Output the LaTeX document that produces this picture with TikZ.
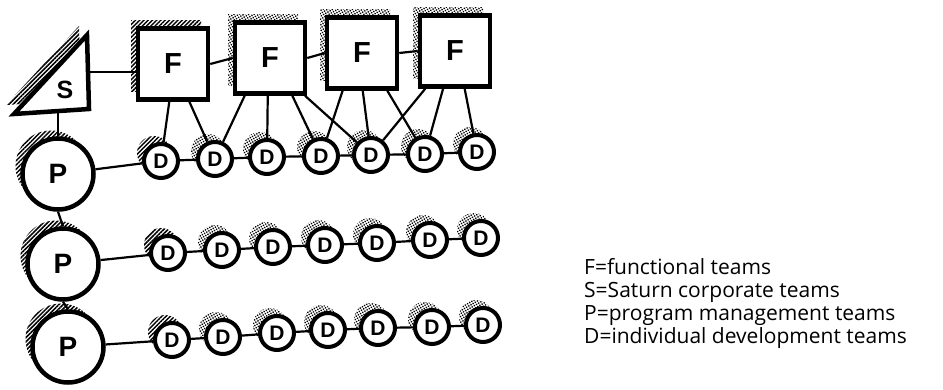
\documentclass[tikz,border=0pt]{standalone}
\usepackage{fontspec}
\setmainfont{Open Sans}
\newfontfamily\shapefont{Liberation Sans}
\usetikzlibrary{patterns,patterns.meta,shadows,calc}
\begin{document}
\begin{tikzpicture}[x=1pt,y=-1pt,
  conn/.style={line width=2.2pt},
  hatchpat/.style={pattern={Lines[angle=45,distance=3pt,line width=1.5pt]},pattern color=black},
  dotpat/.style={pattern={Dots[radius=0.95pt,distance=2.5pt,angle=30]},pattern color=black},
  hatchsh/.style={general shadow={shadow xshift=-7pt,shadow yshift=8pt,hatchpat}},
  dotsh/.style={general shadow={shadow xshift=-7pt,shadow yshift=8pt,dotpat}},
  fbox/.style={draw,line width=4.5pt,fill=white,minimum width=70pt,minimum height=71pt,inner sep=0pt,font=\shapefont\bfseries\fontsize{29}{29}\selectfont},
  dnode/.style={circle,draw,line width=4pt,fill=white,minimum size=34pt,inner sep=0pt,font=\shapefont\bfseries\fontsize{21}{21}\selectfont},
  pnode/.style={circle,draw,line width=4.5pt,fill=white,minimum size=71pt,inner sep=0pt,font=\shapefont\bfseries\fontsize{28}{28}\selectfont},
  legend/.style={anchor=base west,font=\fontsize{21}{21}\selectfont,inner sep=0pt}]
\useasboundingbox (0,0) rectangle (943,389);

% Saturn triangle
\path[hatchpat] (6,105) -- (79,26) -- (81,100) -- cycle;
\draw[line width=4.5pt,fill=white,line join=miter] (14,114) -- (87,35) -- (89,109) -- cycle;
\node[font=\shapefont\bfseries\fontsize{25}{25}\selectfont] (S) at (65,90) {S};
\coordinate (Sr) at (89,72);
\coordinate (Sb) at (58,112);

% functional teams
\node[fbox,hatchsh] (F1) at (173,64) {F};
\node[fbox,dotsh] (F2) at (270,58) {F};
\node[fbox,dotsh] (F3) at (362,53) {F};
\node[fbox,dotsh] (F4) at (455,51) {F};

% program management teams
\node[pnode,hatchsh] (P1) at (58,174) {P};
\node[pnode,hatchsh] (P2) at (63,264) {P};
\node[pnode,hatchsh] (P3) at (68,347) {P};

% development teams
\foreach \i/\x/\y in {1/161/161,2/215/159,3/267/157,4/321/156,5/371/155,6/425/154,7/477/152}{
  \ifnum\i=1 \node[dnode,hatchsh] (A\i) at (\x,\y) {D};
  \else \node[dnode,dotsh] (A\i) at (\x,\y) {D};\fi}
\foreach \i/\x/\y in {1/168/253,2/222/250,3/273/247,4/325/245,5/377/243,6/430/240,7/481/238}{
  \ifnum\i=1 \node[dnode,hatchsh] (B\i) at (\x,\y) {D};
  \else \node[dnode,dotsh] (B\i) at (\x,\y) {D};\fi}
\foreach \i/\x/\y in {1/172/340,2/223/337,3/277/333,4/328/330,5/378/328,6/432/327,7/483/325}{
  \ifnum\i=1 \node[dnode,hatchsh] (C\i) at (\x,\y) {D};
  \else \node[dnode,dotsh] (C\i) at (\x,\y) {D};\fi}

% connectors
\draw[conn] (Sr) -- (Sr -| F1.west);
\draw[conn] (Sb) -- (P1.north);
\draw[conn] (F1.east) -- (F2.west);
\draw[conn] (F2.east) -- (F3.west);
\draw[conn] (F3.east) -- (F4.west);
\draw[conn] (P1.south) -- (P2.north);
\draw[conn] (P2.south) -- (P3.north);
\draw[conn] (P1) -- (A1);
\draw[conn] (P2) -- (B1);
\draw[conn] (P3) -- (C1);
\foreach \r in {A,B,C}{
  \foreach \i/\j in {1/2,2/3,3/4,4/5,5/6,6/7}{
    \draw[conn] (\r\i) -- (\r\j);}}

\foreach \f/\t/\d in {F1/0.45/A1,F1/0.72/A2,
                      F2/0.16/A2,F2/0.47/A3,F2/0.8/A4,F2/0.97/A5,
                      F3/0.24/A4,F3/0.51/A5,F3/0.84/A6,
                      F4/0.1/A5,F4/0.34/A6,F4/0.63/A7}{
  \draw[conn] ($(\f.south west)!\t!(\f.south east)$) -- (\d);}

% legend
\node[legend] (L1) at (584,274) {F=functional teams};
\node[legend] (L2) at (584,297) {S=Saturn corporate teams};
\node[legend] (L3) at (584,320) {P=program management teams};
\node[legend] (L4) at (584,343) {D=individual development teams};
\end{tikzpicture}
\end{document}
